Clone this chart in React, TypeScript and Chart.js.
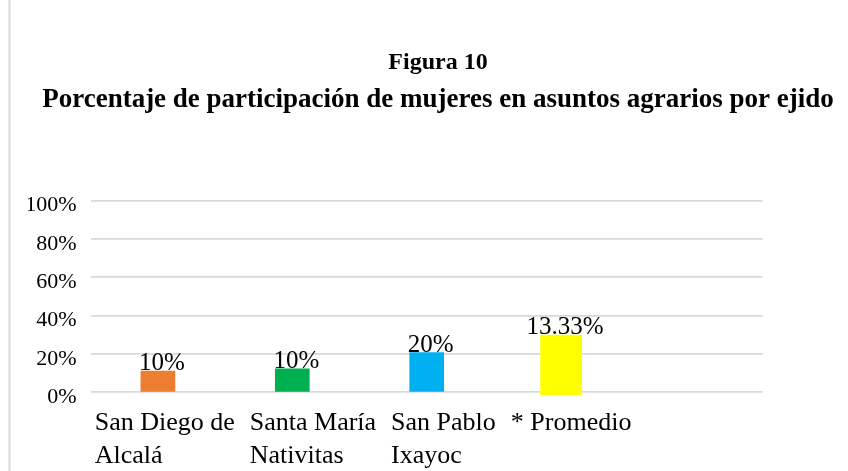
import { useEffect, useRef } from 'react';
import { Chart, registerables } from 'chart.js';

Chart.register(...registerables);

const titleText = 'Figura 10';
const subtitleText = 'Porcentaje de participación de mujeres en asuntos agrarios por ejido';

const categoryLines: string[][] = [
  ['San Diego de', 'Alcalá'],
  ['Santa María', 'Nativitas'],
  ['San Pablo', 'Ixayoc'],
  ['* Promedio'],
  [''],
];

// bar heights (percent)
const ejidoValues: (number | null)[] = [11.1, 12.2, 20.7, null, null];
const promedioValues: ([number, number] | null)[] = [null, null, null, [-1.2, 29.9], null];

// labels written on the bars
const dataLabels = ['10%', '10%', '20%', '13.33%', ''];

const ejidoColors = ['#ED7D31', '#00B050', '#00B0F0'];
const promedioColor = '#FFFF00';

const yTicks = [0, 20, 40, 60, 80, 100];

const SERIF = '"Liberation Serif", "Times New Roman", serif';

export default function App() {
  const ref = useRef<HTMLCanvasElement>(null);

  useEffect(() => {
    document.body.style.margin = '0';
    const canvas = ref.current!;

    const backgroundPlugin = {
      id: 'bgBorder',
      beforeDraw(chart: any) {
        const ctx = chart.ctx;
        ctx.save();
        ctx.fillStyle = '#ffffff';
        ctx.fillRect(0, 0, chart.width, chart.height);
        ctx.fillStyle = '#d9d9d9';
        ctx.fillRect(8.5, 0, 2, chart.height);
        ctx.restore();
      },
    };

    const valueLabelPlugin = {
      id: 'valueLabels',
      afterDatasetsDraw(chart: any) {
        const ctx = chart.ctx;
        ctx.save();
        ctx.font = `25px ${SERIF}`;
        ctx.fillStyle = '#000000';
        ctx.textAlign = 'center';
        ctx.textBaseline = 'alphabetic';
        chart.data.datasets.forEach((ds: any, d: number) => {
          const meta = chart.getDatasetMeta(d);
          meta.data.forEach((bar: any, i: number) => {
            if (ds.data[i] == null) return;
            const p = bar.getProps(['x', 'y'], true);
            ctx.fillText(dataLabels[i], p.x + 4, p.y - 1);
          });
        });
        ctx.restore();
      },
    };

    const categoryLabelPlugin = {
      id: 'categoryLabels',
      afterDraw(chart: any) {
        const ctx = chart.ctx;
        const area = chart.chartArea;
        ctx.save();
        ctx.font = `26px ${SERIF}`;
        ctx.fillStyle = '#000000';
        ctx.textAlign = 'left';
        ctx.textBaseline = 'alphabetic';
        let x = area.left + 4;
        categoryLines.forEach((lines) => {
          if (lines.join('') === '') return;
          let maxW = 0;
          lines.forEach((ln, j) => {
            ctx.fillText(ln, x, area.bottom + 38 + j * 33);
            maxW = Math.max(maxW, ctx.measureText(ln).width);
          });
          x += maxW + 15;
        });
        ctx.restore();
      },
    };

    const chart = new Chart(canvas, {
      type: 'bar',
      data: {
        labels: categoryLines,
        datasets: [
          {
            label: 'Ejidos',
            data: ejidoValues as any,
            backgroundColor: ejidoColors,
            barThickness: 34,
            grouped: false,
            clip: false as any,
          },
          {
            label: 'Promedio',
            data: promedioValues as any,
            backgroundColor: promedioColor,
            barThickness: 41,
            grouped: false,
            clip: false as any,
          },
        ],
      },
      options: {
        animation: false,
        responsive: true,
        maintainAspectRatio: false,
        layout: { padding: { left: 28, right: 0, top: 0, bottom: 0 } },
        plugins: {
          legend: { display: false },
          tooltip: { enabled: false },
          title: {
            display: true,
            text: titleText,
            color: '#000000',
            font: { family: SERIF, size: 24, weight: 'bold', lineHeight: 1.2 },
            padding: { top: 48.6, bottom: 0 },
          },
          subtitle: {
            display: true,
            text: subtitleText,
            color: '#000000',
            font: { family: SERIF, size: 27, weight: 'bold', lineHeight: 1.2 },
            padding: { top: 6.3, bottom: 84.6 },
          },
        },
        scales: {
          x: {
            type: 'category',
            grid: { display: false },
            border: { display: false },
            ticks: { display: false },
            afterFit: (s: any) => {
              s.height = 78.7;
            },
          },
          y: {
            min: yTicks[0],
            max: yTicks[yTicks.length - 1],
            afterBuildTicks: (s: any) => {
              s.ticks = yTicks.map((v) => ({ value: v }));
            },
            ticks: {
              callback: (v: any) => `${v}%`,
              color: '#000000',
              font: { family: SERIF, size: 22 },
              padding: 14,
              labelOffset: 5,
            },
            grid: { color: '#d9d9d9', lineWidth: 1.7, drawTicks: false },
            border: { display: false },
            afterFit: (s: any) => {
              s.width = 62.7;
            },
          },
          yFill: {
            type: 'linear',
            position: 'right',
            display: true,
            grid: { display: false },
            border: { display: false },
            ticks: { display: false },
            afterFit: (s: any) => {
              s.width = 85.3;
            },
          },
        },
      } as any,
      plugins: [backgroundPlugin, valueLabelPlugin, categoryLabelPlugin],
    });

    return () => chart.destroy();
  }, []);

  return (
    <div style={{ width: 848, height: 471, position: 'relative' }}>
      <canvas ref={ref} style={{ display: 'block' }} />
    </div>
  );
}
